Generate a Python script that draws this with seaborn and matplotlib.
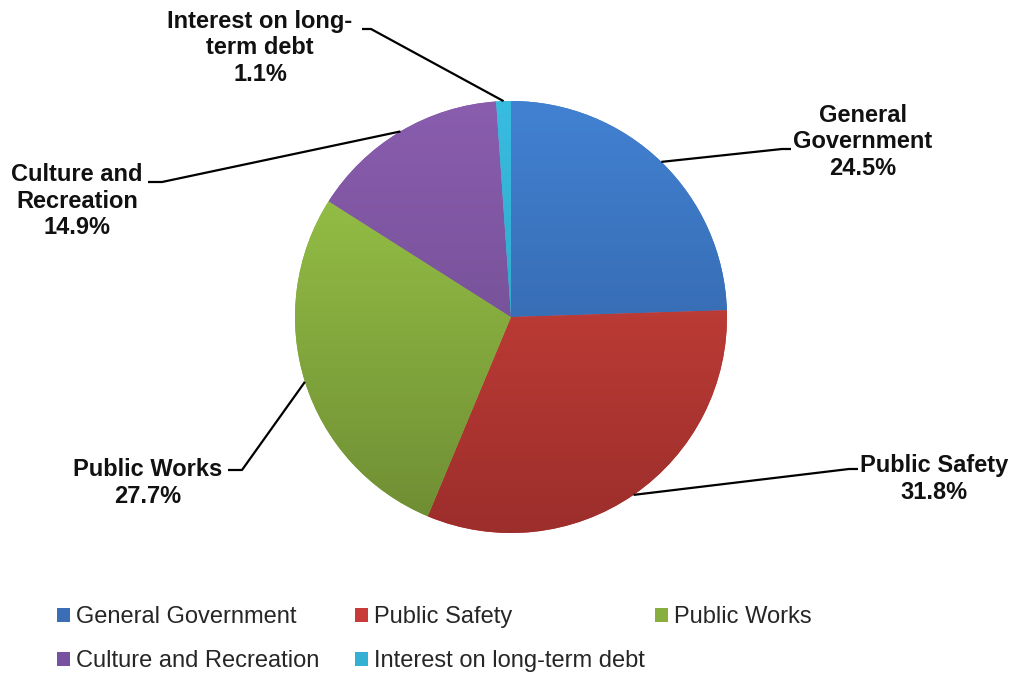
import numpy as np
import matplotlib
matplotlib.use("Agg")
import matplotlib.pyplot as plt
from matplotlib.colors import LinearSegmentedColormap
from matplotlib.patches import Patch
import seaborn as sns

categories = ["General Government", "Public Safety", "Public Works",
              "Culture and Recreation", "Interest on long-term debt"]
values = [24.5, 31.8, 27.7, 14.9, 1.1]
label_texts = ["General\nGovernment", "Public Safety", "Public Works",
               "Culture and\nRecreation", "Interest on long-\nterm debt"]
top_colors = ["#4281D2", "#D8463F", "#9DCB4A", "#8A5DAE", "#38BCE0"]
bot_colors = ["#2D5B99", "#9C2E2B", "#6E8C33", "#674888", "#2A9ABA"]
mid_colors = ["#3A6FB8", "#C83B38", "#88AE40", "#7752A0", "#33B0D4"]

sns.set_theme(style="white")
plt.rcParams["font.family"] = ["Liberation Sans", "DejaVu Sans"]

W, H = 1016, 673
fig = plt.figure(figsize=(W / 100, H / 100), dpi=100)
ax = fig.add_axes([0, 0, 1, 1])

cx, cy, R = 511, H - 317, 216
wedges, _ = ax.pie(values, colors=mid_colors, startangle=90, counterclock=False,
                   center=(cx, cy), radius=R, wedgeprops=dict(linewidth=0))

grad = np.linspace(0, 1, 256).reshape(-1, 1)
for w, c1, c2 in zip(wedges, top_colors, bot_colors):
    cmap = LinearSegmentedColormap.from_list("g", [c1, c2])
    im = ax.imshow(grad, cmap=cmap, extent=(cx - R, cx + R, cy - R, cy + R),
                   origin="upper", aspect="auto", zorder=w.get_zorder() + 0.1)
    im.set_clip_path(w)

# label layout (pixel coords from top): elbow, end of line, text centre
layout = [
    ((782, 149), (791, 149), (863, 142)),
    ((849, 469), (858, 469), (934, 479)),
    ((242, 470), (228, 470), (148, 483)),
    ((162, 182), (148, 182), (77, 201)),
    ((371, 29), (362, 29), (260, 48)),
]
for w, val, txt, (elb, end, tpos) in zip(wedges, values, label_texts, layout):
    mid = np.deg2rad((w.theta1 + w.theta2) / 2)
    px, py = cx + R * np.cos(mid), cy + R * np.sin(mid)
    ax.plot([px, elb[0], end[0]], [py, H - elb[1], H - end[1]],
            color="black", lw=1.6, solid_capstyle="butt", zorder=5)
    ax.text(tpos[0], H - tpos[1], f"{txt}\n{val:.1f}%", ha="center", va="center",
            fontsize=17, fontweight="bold", color="#111111", linespacing=1.22,
            zorder=6)

ax.set_xlim(0, W)
ax.set_ylim(0, H)
ax.set_aspect("auto")
ax.axis("off")

handles = [Patch(facecolor=c, edgecolor="none") for c in mid_colors]
cols = [[0, 3], [1, 4], [2]]
xs = [57, 355, 655]
for col, x in zip(cols, xs):
    fig.legend([handles[i] for i in col], [categories[i] for i in col],
               loc="upper left", bbox_to_anchor=(x / W, 1 - 606 / H),
               frameon=False, fontsize=17, handlelength=0.55,
               handleheight=0.55, handletextpad=0.25, labelspacing=0.95,
               borderaxespad=0, borderpad=0)

fig.savefig("out.png", dpi=100, facecolor="white")
